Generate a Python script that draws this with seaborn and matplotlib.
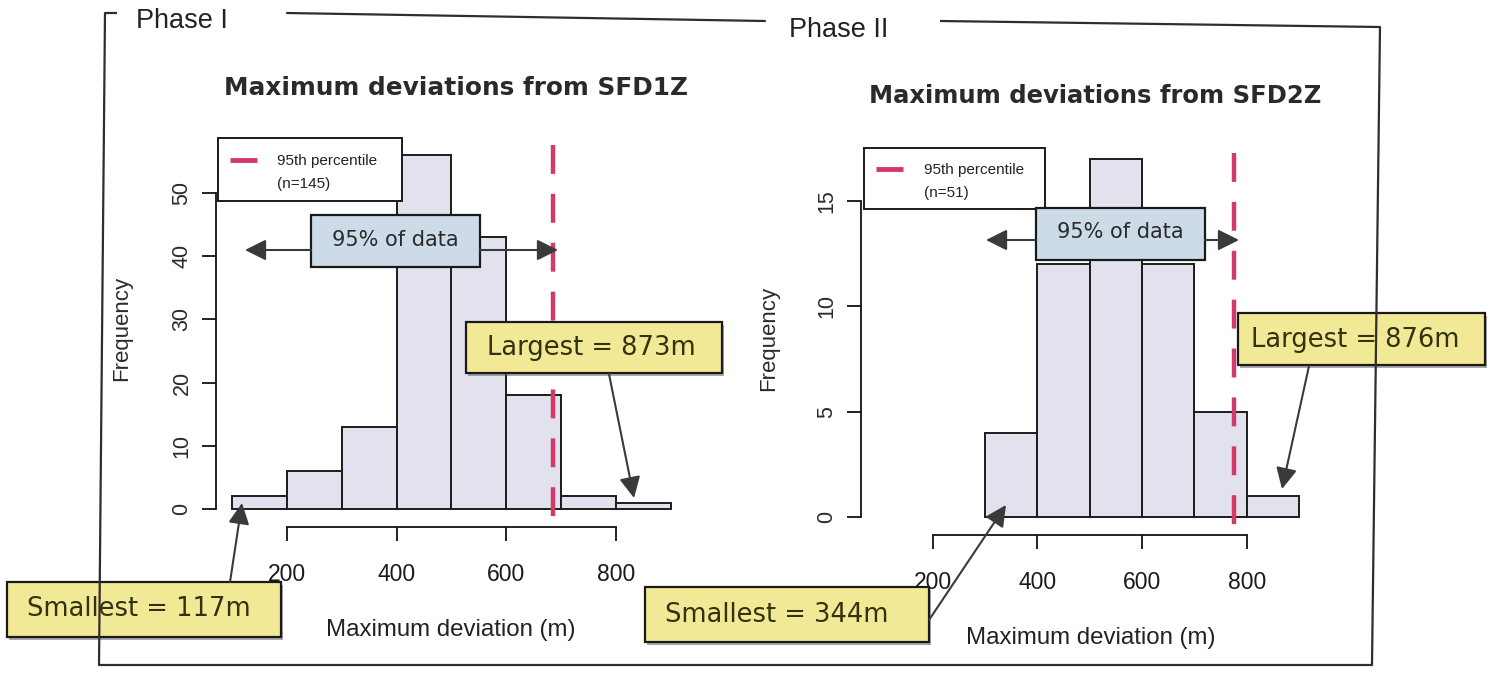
import matplotlib
matplotlib.use("Agg")
import matplotlib.pyplot as plt
import seaborn as sns
import numpy as np
import pandas as pd
from matplotlib.patches import Rectangle, FancyArrowPatch

# ---------------- data ----------------
phase1_bin_edges = [100, 200, 300, 400, 500, 600, 700, 800, 900]
phase1_counts = [2, 6, 13, 56, 43, 18, 2, 1]
phase1_p95 = 685
phase1_n = 145
phase1_min = 117
phase1_max = 873

phase2_bin_edges = [300, 400, 500, 600, 700, 800, 900]
phase2_counts = [4, 12, 17, 12, 5, 1]
phase2_p95 = 776
phase2_n = 51
phase2_min = 344
phase2_max = 876

x_ticks = [200, 400, 600, 800]
phase1_y_ticks = [0, 10, 20, 30, 40, 50]
phase2_y_ticks = [0, 5, 10, 15]

titles = ["Maximum deviations from SFD1Z", "Maximum deviations from SFD2Z"]
phase_labels = ["Phase I", "Phase II"]
x_label = "Maximum deviation (m)"
y_label = "Frequency"
band_label = "95% of data"
legend_label = "95th percentile"

# ---------------- style ----------------
sns.set_theme(style="white")
plt.rcParams["font.family"] = ["Liberation Sans", "DejaVu Sans"]

NARROW = ["Liberation Sans Narrow", "Liberation Sans", "DejaVu Sans"]
ARIAL = ["Liberation Sans", "DejaVu Sans"]
VERD = ["DejaVu Sans"]

BAR = "#e2e2ee"
EDGE = "#1c1c1c"
RED = "#d23a68"
YELLOW = "#f1e996"
BLUE = "#cddae7"
ARROW = "#3a3a3a"
FRAME = "#2e2e2e"

W, H = 1494, 674
fig = plt.figure(figsize=(W / 100, H / 100), dpi=100)
fig.patch.set_facecolor("white")


def make_axes(l, t, r, b):
    return fig.add_axes([l / W, 1 - b / H, (r - l) / W, (b - t) / H])


def lim_from(p0, v0, p1, v1, lo_px, hi_px):
    s = (v1 - v0) / (p1 - p0)
    return v0 + (lo_px - p0) * s, v0 + (hi_px - p0) * s


def draw_panel(ax, edges, counts, p95, yticks, line_top, line_bot, out_px):
    mids = [(a + b) / 2 for a, b in zip(edges[:-1], edges[1:])]
    df = pd.DataFrame({"deviation": mids, "count": counts})
    sns.histplot(data=df, x="deviation", weights="count", bins=edges, ax=ax,
                 color=BAR, edgecolor=EDGE, linewidth=1.4, alpha=1, zorder=2)
    # 95th percentile line
    ax.plot([p95, p95], [line_top, line_bot], color=RED, lw=3.2,
            ls=(0, (6.5, 4.5)), clip_on=False, zorder=3)
    for s in ["top", "right"]:
        ax.spines[s].set_visible(False)
    for s in ["left", "bottom"]:
        ax.spines[s].set_color("#111111")
        ax.spines[s].set_linewidth(1.3)
    ax.spines["left"].set_bounds(yticks[0], yticks[-1])
    ax.spines["bottom"].set_bounds(x_ticks[0], x_ticks[-1])
    ax.spines["bottom"].set_position(("outward", out_px * 0.72))
    ax.set_xticks(x_ticks)
    ax.set_xticklabels([str(t) for t in x_ticks], family=NARROW, fontsize=16.5,
                       color="#1a1a1a")
    ax.set_yticks(yticks)
    ax.set_yticklabels([str(t) for t in yticks], rotation=90, va="center",
                       family=ARIAL, fontsize=15.5, color="#2a2a2a")
    ax.tick_params(axis="both", which="both", bottom=True, left=True,
                   direction="out", length=10, width=1.3, color="#111111")
    ax.tick_params(axis="x", pad=16)
    ax.tick_params(axis="y", pad=7)
    ax.set_xlabel("")
    ax.set_ylabel(y_label, family=ARIAL, fontsize=16, color="#2a2a2a")
    ax.patch.set_alpha(0)


# ---------------- Phase I axes ----------------
ax1 = make_axes(216, 140, 700, 512)
ax1.set_xlim(*lim_from(232, 100, 671, 900, 216, 700))
ax1.set_ylim(*lim_from(509, 0, 193, 50, 512, 140))
y1 = lambda py: (509 - py) / ((509 - 193) / 50)
draw_panel(ax1, phase1_bin_edges, phase1_counts, phase1_p95, phase1_y_ticks,
           y1(145), y1(528), 15)
ax1.yaxis.set_label_coords((122 - 216) / (700 - 216), (512 - 328) / (512 - 140))
ax1.yaxis.label.set_va("center")

# ---------------- Phase II axes ----------------
ax2 = make_axes(861, 145, 1330, 520)
ax2.set_xlim(*lim_from(985, 300, 1299, 900, 861, 1330))
ax2.set_ylim(*lim_from(517, 0, 201, 15, 520, 145))
y2 = lambda py: (517 - py) / ((517 - 201) / 15)
draw_panel(ax2, phase2_bin_edges, phase2_counts, phase2_p95, phase2_y_ticks,
           y2(153), y2(537), 15)
ax2.yaxis.set_label_coords((769 - 861) / (1330 - 861), (520 - 338) / (520 - 145))
ax2.yaxis.label.set_va("center")

# ---------------- overlay (annotations in pixel space) ----------------
ov = fig.add_axes([0, 0, 1, 1])
ov.set_xlim(0, W)
ov.set_ylim(H, 0)
ov.axis("off")
ov.set_zorder(10)
ov.patch.set_alpha(0)

# frame lines
frame = [(117, 13), (105, 13), (99, 665), (1372, 665), (1380, 27), (940, 21)]
xs, ys = zip(*frame)
ov.plot(xs, ys, color=FRAME, lw=1.6, solid_capstyle="butt")
ov.plot([287, 765], [13, 21], color=FRAME, lw=1.6)

ov.text(136, 21, phase_labels[0], family=NARROW, fontsize=19.5, color="#222222",
        ha="left", va="center")
ov.text(789, 30, phase_labels[1], family=NARROW, fontsize=19.5, color="#222222",
        ha="left", va="center")

# titles
ov.text(456, 88, titles[0], family=VERD, fontsize=17.8, fontweight="bold",
        color="#2a2a2a", ha="center", va="center")
ov.text(1095, 96, titles[1], family=VERD, fontsize=17.5, fontweight="bold",
        color="#2a2a2a", ha="center", va="center")

# x labels
ov.text(451, 630, x_label, family=NARROW, fontsize=17.3, color="#222222",
        ha="center", va="center")
ov.text(1091, 638, x_label, family=NARROW, fontsize=17.3, color="#222222",
        ha="center", va="center")


def box(l, t, r, b, fc, shadow=True):
    if shadow:
        ov.add_patch(Rectangle((l + 2, t + 3), r - l, b - t, fc="#555555",
                               ec="none", alpha=0.5))
    ov.add_patch(Rectangle((l, t), r - l, b - t, fc=fc, ec="#1a1a1a", lw=1.6))


def arrow(p0, p1):
    ov.add_patch(FancyArrowPatch(p0, p1,
                                 arrowstyle="-|>,head_length=0.8,head_width=0.4",
                                 mutation_scale=16, lw=1.5, color=ARROW,
                                 shrinkA=0, shrinkB=0))


# legends
def legend_box(l, t, r, b, n, mx, my, tx):
    ov.add_patch(Rectangle((l, t), r - l, b - t, fc="white", ec="#1a1a1a", lw=1.4))
    ov.plot([mx, mx + 27], [my, my], color=RED, lw=3.5, solid_capstyle="butt")
    ov.text(tx, my + 1, legend_label, family=ARIAL, fontsize=11, color="#222222",
            ha="left", va="center")
    ov.text(tx, my + 24, f"(n={n})", family=ARIAL, fontsize=11, color="#222222",
            ha="left", va="center")


legend_box(218, 138, 402, 201, phase1_n, 230, 160, 277)
legend_box(864, 148, 1045, 209, phase2_n, 876, 169, 924)

# 95% of data
box(311, 215, 480, 267, BLUE, shadow=False)
ov.text(395.5, 240, band_label, family=VERD, fontsize=15, color="#2a2a2a",
        ha="center", va="center")
arrow((311, 250), (245, 250))
arrow((480, 250), (558, 250))

box(1036, 208, 1205, 260, BLUE, shadow=False)
ov.text(1120.5, 232, band_label, family=VERD, fontsize=15, color="#2a2a2a",
        ha="center", va="center")
arrow((1036, 240), (986, 240))
arrow((1205, 240), (1239, 240))

# Largest / Smallest
box(466, 322, 722, 373, YELLOW)
ov.text(487, 348, f"Largest = {phase1_max}m", family=VERD, fontsize=18.5,
        color="#33310e", ha="left", va="center")
arrow((609, 374), (634, 498))

box(1238, 313, 1485, 365, YELLOW)
ov.text(1251, 340, f"Largest = {phase2_max}m", family=VERD, fontsize=18.5,
        color="#33310e", ha="left", va="center")
arrow((1309, 366), (1282, 489))

box(7, 582, 281, 637, YELLOW)
ov.text(27, 609, f"Smallest = {phase1_min}m", family=VERD, fontsize=18.5,
        color="#33310e", ha="left", va="center")
arrow((230, 582), (242, 503))

box(645, 587, 929, 642, YELLOW)
ov.text(665, 615, f"Smallest = {phase2_min}m", family=VERD, fontsize=18.5,
        color="#33310e", ha="left", va="center")
arrow((929, 620), (1006, 505))

fig.savefig("out.png", dpi=100, facecolor="white")
